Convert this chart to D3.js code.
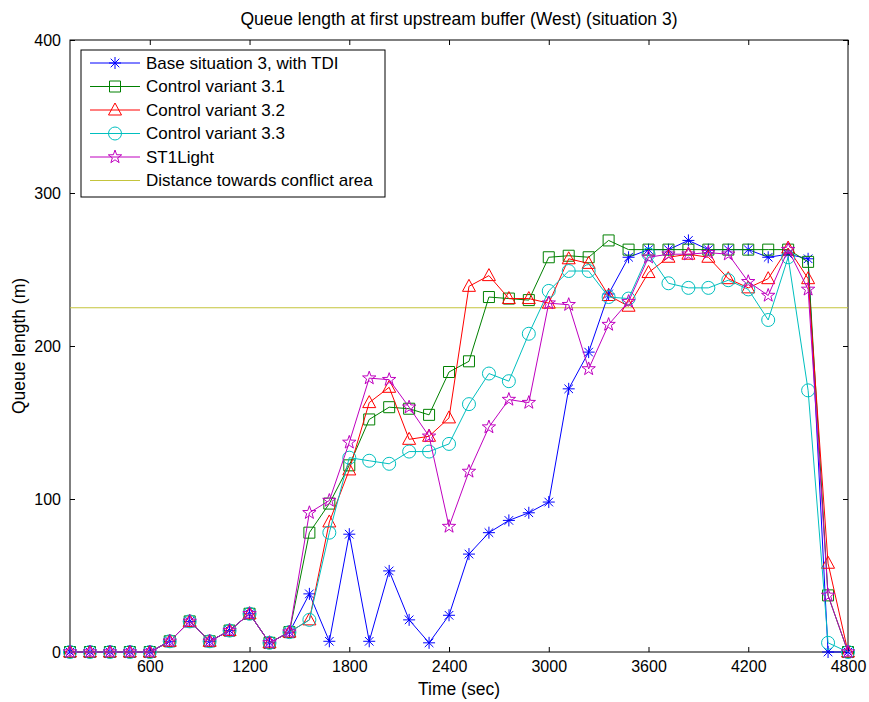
<!DOCTYPE html>
<html>
<head>
<meta charset="utf-8">
<script src="https://cdn.jsdelivr.net/npm/d3@7"></script>
<style>
  body { margin: 0; background: #fff; }
  svg { font-family: "Liberation Sans", Arial, sans-serif; }
</style>
</head>
<body>
<div id="chart"></div>
<script>
// Tiempos de muestreo (s)
const times = [120, 240, 360, 480, 600, 720, 840, 960, 1080, 1200, 1320, 1440, 1560, 1680, 1800, 1920,
               2040, 2160, 2280, 2400, 2520, 2640, 2760, 2880, 3000, 3120, 3240, 3360, 3480, 3600, 3720,
               3840, 3960, 4080, 4200, 4320, 4440, 4560, 4680, 4800];

// Longitud de cola (m) por escenario
const baseTDI = [0, 0, 0, 0, 0, 7, 20, 7, 14, 25, 6, 13, 38, 7, 77, 7, 53, 21, 6, 24, 64, 78, 86, 91, 98,
                 172, 196, 234, 258, 263, 263, 269, 263, 263, 263, 258, 260, 257, 0, 0];
const variant31 = [0, 0, 0, 0, 0, 7, 20, 7, 14, 25, 6, 13, 78, 97, 122, 152, 160, 159, 155, 183, 190, 232,
                   231, 230, 258, 259, 258, 269, 263, 263, 263, 263, 263, 263, 263, 263, 263, 255, 37, 0];
const variant32 = [0, 0, 0, 0, 0, 7, 20, 7, 14, 25, 6, 13, 21, 85, 119, 163, 173, 139, 141, 153, 239, 246,
                   231, 231, 228, 257, 254, 233, 226, 248, 258, 260, 258, 244, 238, 244, 264, 244, 58, 0];
const variant33 = [0, 0, 0, 0, 0, 7, 20, 7, 14, 25, 6, 13, 21, 78, 127, 125, 123, 131, 131, 136, 162, 182,
                   177, 208, 236, 249, 249, 232, 231, 260, 241, 238, 238, 243, 237, 217, 258, 171, 6, 0];
const st1Light = [0, 0, 0, 0, 0, 7, 20, 7, 14, 25, 6, 13, 91, 99, 137, 179, 178, 160, 141, 82, 118, 147,
                  165, 163, 228, 227, 185, 214, 229, 258, 260, 260, 261, 260, 242, 233, 263, 237, 37, 0];
const conflictDistance = 225;

const xTicks = [600, 1200, 1800, 2400, 3000, 3600, 4200, 4800];
const yTicks = [0, 100, 200, 300, 400];

const seriesNames = ["Base situation 3, with TDI", "Control variant 3.1", "Control variant 3.2",
                     "Control variant 3.3", "ST1Light"];
const seriesValues = [baseTDI, variant31, variant32, variant33, st1Light];
const seriesColors = ["#0000ff", "#008000", "#ff0000", "#00bfbf", "#bf00bf"];
const seriesMarkers = ["asterisk", "square", "triangle", "circle", "pentagram"];

const margin = { top: 40, right: 21, bottom: 50, left: 70 };
const width = 869 - margin.left - margin.right;
const height = 702 - margin.top - margin.bottom;

const svg = d3.select("#chart")
    .append("svg")
    .attr("width", 869)
    .attr("height", 702)
    .append("g")
    .attr("transform", `translate(${margin.left}, ${margin.top})`);

// Escalas
const x = d3.scaleLinear().domain([120, 4800]).range([0, width]);
const y = d3.scaleLinear().domain([0, 400]).range([height, 0]);

// Marcadores estilo MATLAB
function markerPath(type) {
    if (type === "asterisk") {
        const r = 6, d = 4.3;
        return `M${-r},0L${r},0M0,${-r}L0,${r}M${-d},${-d}L${d},${d}M${-d},${d}L${d},${-d}`;
    }
    if (type === "square") return "M-5.5,-5.5H5.5V5.5H-5.5Z";
    if (type === "triangle") return "M0,-7L6.5,5L-6.5,5Z";
    if (type === "circle") return "M6.5,0A6.5,6.5 0 1 1 -6.5,0A6.5,6.5 0 1 1 6.5,0Z";
    // pentagrama
    const pts = [];
    for (let i = 0; i < 10; i++) {
        const r = i % 2 === 0 ? 7 : 2.8;
        const a = -Math.PI / 2 + i * Math.PI / 5;
        pts.push([r * Math.cos(a), r * Math.sin(a)]);
    }
    return "M" + pts.map(p => p.join(",")).join("L") + "Z";
}

// Marco y ticks (hacia dentro, como MATLAB)
svg.append("rect")
    .attr("width", width)
    .attr("height", height)
    .attr("fill", "none")
    .attr("stroke", "#000");

svg.append("g")
    .attr("transform", `translate(0, ${height})`)
    .call(d3.axisBottom(x).tickValues(xTicks).tickFormat(d3.format("d"))
        .tickSizeInner(-5).tickSizeOuter(0).tickPadding(9))
    .call(g => g.select(".domain").remove())
    .selectAll("text")
    .style("font-size", "16px");

svg.append("g")
    .call(d3.axisTop(x).tickValues(xTicks).tickSizeInner(-5).tickSizeOuter(0).tickFormat(""))
    .call(g => g.select(".domain").remove());

svg.append("g")
    .call(d3.axisLeft(y).tickValues(yTicks).tickFormat(d3.format("d"))
        .tickSizeInner(-5).tickSizeOuter(0).tickPadding(9))
    .call(g => g.select(".domain").remove())
    .selectAll("text")
    .style("font-size", "16px");

svg.append("g")
    .attr("transform", `translate(${width}, 0)`)
    .call(d3.axisRight(y).tickValues(yTicks).tickSizeInner(-5).tickSizeOuter(0).tickFormat(""))
    .call(g => g.select(".domain").remove());

// Línea de distancia hacia el área de conflicto
svg.append("line")
    .attr("x1", 0)
    .attr("x2", width)
    .attr("y1", y(conflictDistance))
    .attr("y2", y(conflictDistance))
    .attr("stroke", "#c4c43c")
    .attr("stroke-width", 1);

// Series
const line = d3.line()
    .x((d, i) => x(times[i]))
    .y(d => y(d));

seriesValues.forEach((values, k) => {
    const g = svg.append("g");
    g.append("path")
        .datum(values)
        .attr("d", line)
        .attr("fill", "none")
        .attr("stroke", seriesColors[k])
        .attr("stroke-width", 1);
    g.selectAll(".mk")
        .data(values)
        .enter().append("path")
        .attr("transform", (d, i) => `translate(${x(times[i])}, ${y(d)})`)
        .attr("d", markerPath(seriesMarkers[k]))
        .attr("fill", "none")
        .attr("stroke", seriesColors[k])
        .attr("stroke-width", 1);
});

// Título
svg.append("text")
    .attr("x", width / 2)
    .attr("y", -15)
    .attr("text-anchor", "middle")
    .style("font-size", "17.5px")
    .text("Queue length at first upstream buffer (West) (situation 3)");

// Etiquetas de los ejes
svg.append("text")
    .attr("x", width / 2)
    .attr("y", height + 43)
    .attr("text-anchor", "middle")
    .style("font-size", "17.5px")
    .text("Time (sec)");

svg.append("text")
    .attr("transform", "rotate(-90)")
    .attr("x", -height / 2)
    .attr("y", -45)
    .attr("text-anchor", "middle")
    .style("font-size", "17.5px")
    .text("Queue length (m)");

// Leyenda
const legend = svg.append("g").attr("transform", "translate(11, 10)");
legend.append("rect")
    .attr("width", 304)
    .attr("height", 147)
    .attr("fill", "#fff")
    .attr("stroke", "#000");

const legendNames = seriesNames.concat(["Distance towards conflict area"]);
const legendColors = seriesColors.concat(["#c4c43c"]);

legendNames.forEach((name, i) => {
    const row = legend.append("g").attr("transform", `translate(0, ${13 + i * 23.5})`);
    row.append("line")
        .attr("x1", 9).attr("x2", 59)
        .attr("stroke", legendColors[i]);
    if (i < seriesMarkers.length) {
        row.append("path")
            .attr("transform", "translate(34, 0)")
            .attr("d", markerPath(seriesMarkers[i]))
            .attr("fill", "none")
            .attr("stroke", legendColors[i]);
    }
    row.append("text")
        .attr("x", 65)
        .attr("dy", "0.35em")
        .style("font-size", "17px")
        .text(name);
});
</script>
</body>
</html>
